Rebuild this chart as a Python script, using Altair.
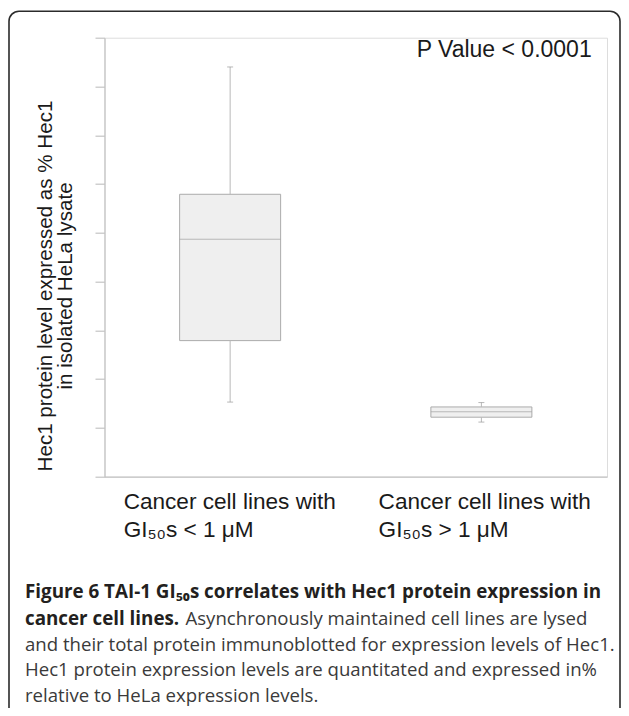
import altair as alt
import pandas as pd

# ---- data ----
groups = ["GI50s < 1 uM", "GI50s > 1 uM"]
whisker_low = [15.3, 11.2]
q1 = [27.9, 12.2]
median = [48.7, 13.3]
q3 = [57.9, 14.3]
whisker_high = [84.0, 15.2]

label_line1 = ["Cancer cell lines with", "Cancer cell lines with"]
label_line2 = ["GI\u2085\u2080s < 1 \u03bcM", "GI\u2085\u2080s > 1 \u03bcM"]

y_ticks = [0, 10, 20, 30, 40, 50, 60, 70, 80, 90]
y_title = ["Hec1 protein level expressed as % Hec1", "in isolated HeLa lysate"]
p_text = "P Value < 0.0001"

caption_bold = ["Figure 6 TAI-1 GI\u2085\u2080s correlates with Hec1 protein expression in",
                "cancer cell lines."]
caption_regular_first = ["Asynchronously maintained cell lines are lysed"]
caption_regular_rest = ["and their total protein immunoblotted for expression levels of Hec1.",
                        "Hec1 protein expression levels are quantitated and expressed in%",
                        "relative to HeLa expression levels."]

box_df = pd.DataFrame({
    "group": groups,
    "lo": whisker_low,
    "q1": q1,
    "med": median,
    "q3": q3,
    "hi": whisker_high,
    "l1": label_line1,
    "l2": label_line2,
})
one = pd.DataFrame({"k": [0]})

W, H = 502.5, 439
PAD_L, PAD_T = 96.5, 29.7
TOTAL_W, TOTAL_H = 613, 700
AX = "#c4c4c4"
LABEL_FONT = "Liberation Sans"
CAP_FONT = "Open Sans"
TXT = "#1a1a1a"

xenc = alt.X("group:N", sort=groups,
             scale=alt.Scale(type="point", padding=0.5, domain=groups),
             axis=alt.Axis(title=None, labels=False, ticks=False, domain=True,
                           domainColor=AX, domainWidth=1.2, grid=False))
xg = alt.X("group:N", sort=groups)
yscale = alt.Scale(domain=[0, 90], nice=False, zero=False)

base = alt.Chart(box_df)

box = base.mark_bar(width=101, fill="#efefef", stroke="#ababab", strokeWidth=1).encode(
    x=xenc,
    y=alt.Y("q1:Q", scale=yscale,
            axis=alt.Axis(values=y_ticks, labels=False, title=None, grid=False,
                          tickSize=9.5, tickColor=AX, tickWidth=1.2,
                          domainColor=AX, domainWidth=1.2)),
    y2="q3:Q",
)
whisk_lo = base.mark_rule(color="#b8b8b8", strokeWidth=1).encode(x=xg, y="lo:Q", y2="q1:Q")
whisk_hi = base.mark_rule(color="#b8b8b8", strokeWidth=1).encode(x=xg, y="q3:Q", y2="hi:Q")
cap_lo = base.mark_tick(size=6, thickness=1, color="#9a9a9a").encode(x=xg, y="lo:Q")
cap_hi = base.mark_tick(size=6, thickness=1, color="#9a9a9a").encode(x=xg, y="hi:Q")
med = base.mark_tick(size=101, thickness=1, color="#a3a3a3").encode(x=xg, y="med:Q")

label_layers = []
for g, dx in zip(groups, [-106.5, -102.8]):
    sub = base.transform_filter(alt.datum.group == g)
    label_layers.append(sub.mark_text(align="left", baseline="alphabetic", dx=dx, fontSize=22.6,
                                      font=LABEL_FONT, color=TXT).encode(
        x=xg, y=alt.value(471.6), text="l1:N"))
    label_layers.append(sub.mark_text(align="left", baseline="alphabetic", dx=dx, fontSize=22.6,
                                      font=LABEL_FONT, color=TXT).encode(
        x=xg, y=alt.value(499), text="l2:N"))

ptext = alt.Chart(one).mark_text(align="left", baseline="alphabetic", fontSize=23,
                                 font=LABEL_FONT, color=TXT).encode(
    x=alt.value(312.2), y=alt.value(19), text=alt.value(p_text))

ytitle1 = alt.Chart(one).mark_text(align="center", baseline="alphabetic", angle=270,
                                   fontSize=20.6, font=LABEL_FONT, color=TXT).encode(
    x=alt.value(-52.8), y=alt.value(248.3), text=alt.value(y_title[0]))
ytitle2 = alt.Chart(one).mark_text(align="center", baseline="alphabetic", angle=270,
                                   fontSize=20.6, font=LABEL_FONT, color=TXT).encode(
    x=alt.value(-32.8), y=alt.value(248.3), text=alt.value(y_title[1]))

cap_b = alt.Chart(one).mark_text(align="left", baseline="alphabetic", fontSize=18.8,
                                 fontWeight="bold", font=CAP_FONT, color="#231f20",
                                 lineHeight=26.5).encode(
    x=alt.value(-79.5), y=alt.value(560.5), text=alt.value(caption_bold))
cap_r1 = alt.Chart(one).mark_text(align="left", baseline="alphabetic", fontSize=18.6,
                                  font=CAP_FONT, color="#3a3a3a").encode(
    x=alt.value(81), y=alt.value(587), text=alt.value(caption_regular_first[0]))
cap_r2 = alt.Chart(one).mark_text(align="left", baseline="alphabetic", fontSize=18.6,
                                  font=CAP_FONT, color="#3a3a3a", lineHeight=25.6).encode(
    x=alt.value(-79.5), y=alt.value(613), text=alt.value(caption_regular_rest))

frame = alt.Chart(one).mark_rect(fillOpacity=0, stroke="#2b2b2b", strokeWidth=1.6,
                                 cornerRadius=10).encode(
    x=alt.value(-95.5), x2=alt.value(TOTAL_W - PAD_L - 1.0),
    y=alt.value(-26.5), y2=alt.value(720))

chart = alt.layer(
    frame, box, whisk_lo, whisk_hi, cap_lo, cap_hi, med, *label_layers, ptext,
    ytitle1, ytitle2, cap_b, cap_r1, cap_r2
).properties(
    width=W, height=H,
    padding={"left": PAD_L, "top": PAD_T, "right": TOTAL_W - PAD_L - W,
             "bottom": TOTAL_H - PAD_T - H},
    autosize=alt.AutoSizeParams(type="none"),
).configure_view(strokeWidth=0).configure(background="white")

chart.save("out.html", embed_options={"renderer": "svg", "actions": False})
